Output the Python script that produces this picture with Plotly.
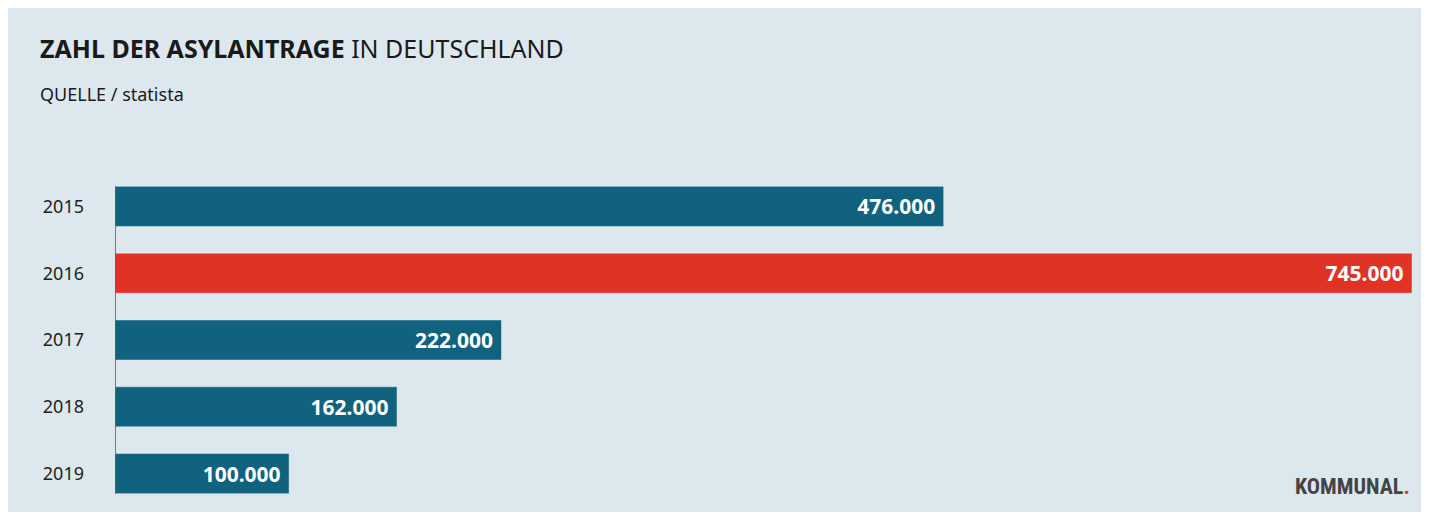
import plotly.graph_objects as go

years = ["2015", "2016", "2017", "2018", "2019"]
values = [476000, 745000, 222000, 162000, 100000]
labels = ["476.000", "745.000", "222.000", "162.000", "100.000"]
colors = ["#10627f", "#e03326", "#10627f", "#10627f", "#10627f"]

bg = "#dce8ee"
fig = go.Figure(go.Bar(
    y=years, x=values, orientation="h", marker_color=colors, width=0.6,
    text=labels, textposition="inside", insidetextanchor="end",
    textfont=dict(color="white", size=21, family="Noto Sans"),
    texttemplate="<b>%{text}</b> ", hoverinfo="skip"))

H = 334.0
fig.update_layout(
    width=1429, height=512, paper_bgcolor=bg, plot_bgcolor=bg,
    margin=dict(l=107, r=25, t=165, b=13), showlegend=False,
    font=dict(family="Noto Sans", color="#222"),
    xaxis=dict(range=[0, 745000], visible=False),
    yaxis=dict(autorange="reversed", showgrid=False, zeroline=False,
               tickfont=dict(size=18, color="#222"), ticks="", ticklabelstandoff=30),
    shapes=[dict(type="line", xref="x", yref="paper", x0=0, x1=0, y0=0.04, y1=0.96,
                 line=dict(color="#555", width=1.5))],
    annotations=[
        dict(xref="paper", yref="paper", x=-77/1297, y=(499-40)/H, yanchor="middle",
             xanchor="left", showarrow=False,
             text="<b>ZAHL DER ASYLANTRAGE</b> IN DEUTSCHLAND",
             font=dict(size=25, color="#1a1a1a")),
        dict(xref="paper", yref="paper", x=-77/1297, y=(499-86)/H, yanchor="middle",
             xanchor="left", showarrow=False, text="QUELLE / statista",
             font=dict(size=18, color="#1a1a1a")),
        dict(xref="paper", yref="paper", x=1.0, y=(499-478)/H, yanchor="middle",
             xanchor="right", showarrow=False,
             text="<b>KOMMUNAL</b><span style='color:#e03326'><b>.</b></span>",
             font=dict(size=22, color="#444", family="Roboto Condensed, Roboto")),
    ],
)
fig.write_html("out.html")
